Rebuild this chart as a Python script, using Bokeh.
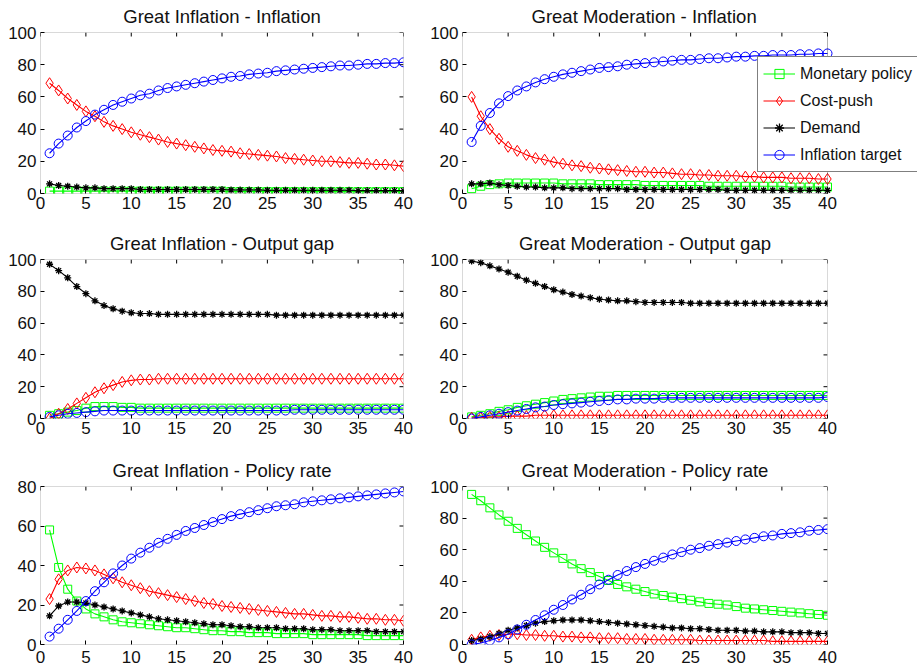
from math import pi
from bokeh.plotting import figure
from bokeh.models import Title, Legend, LegendItem, Range1d, FixedTicker, BoxAnnotation
from bokeh.layouts import column, row
from bokeh.embed import file_html
from bokeh.resources import INLINE

horizon = list(range(1, 41))
x_ticks = [0, 5, 10, 15, 20, 25, 30, 35, 40]
y_ticks_100 = [0, 20, 40, 60, 80, 100]
y_ticks_80 = [0, 20, 40, 60, 80]
series_names = ["Monetary policy", "Cost-push", "Demand", "Inflation target"]

# Great Inflation - Inflation
gi_inf_mp = [1.5,1.5,1.5,1.5,1.5,1.5,1.5,1.5,1.5,1.5,1.5,1.5,1.5,1.5,1.5,1.5,1.5,1.5,1.5,1.5,
             1.2,1.2,1.2,1.2,1.2,1.2,1.2,1.2,1.2,1.2,1.2,1.2,1.2,1.2,1.2,1.2,1.2,1.2,1.2,1.2]
gi_inf_cp = [68.5,64,59,55,51,48,44.5,42,40,38,36.5,35,33.5,32,31,30,29,28,27,26.5,
             26,25,24.5,24,23.5,23,22,21.5,21,20.5,20,20,19.5,19,19,18.5,18,18,17.5,17]
gi_inf_dm = [6,5,4.5,4,3.5,3.5,3,3,3,3,2.5,2.5,2.5,2.5,2.5,2.5,2.5,2.5,2.5,2.5,
             2.2,2.2,2.2,2.2,2,2,2,2,2,2,2,2,2,2,1.8,1.8,1.8,1.8,1.8,1.8]
gi_inf_it = [25,31,36,41,45,49,52,55,57,59,61,62,64,65.5,66.5,67.5,68.5,69.5,70.5,71.5,
             72.5,73,74,74.5,75,76,76.5,77,77.5,78,78.5,79,79.5,79.5,80,80.5,80.5,81,81,81.5]

# Great Moderation - Inflation
gm_inf_mp = [3,4.5,5.5,6,6.5,6.5,6.5,6.5,6.5,6.5,6,6,6,6,5.5,5.5,5.5,5.5,5.5,5,
             5,5,5,5,5,5,4.5,4.5,4.5,4.5,4.5,4.5,4.5,4.5,4.5,4,4,4,4,4]
gm_inf_cp = [60,48,40,34,29,26.5,24,22,21,19.5,18.5,17.5,17,16,15.5,15,14.5,14,13.5,13.5,
             13,13,12.5,12,12,11.5,11.5,11,11,11,10.5,10.5,10,10,10,9.5,9.5,9.5,9,9]
gm_inf_dm = [6,6,6.5,5.5,5,4.5,4,4,3.5,3.5,3.5,3,3,3,3,3,3,2.5,2.5,2.5,
             2.5,2.5,2.5,2.5,2.5,2.5,2.5,2.5,2,2,2,2,2,2,2,2,2,2,2,2]
gm_inf_it = [32,42,50,56,60.5,64,66.5,69,71,72.5,74,75,76,77,78,78.5,79,80,80.5,81,
             81.5,82,82.5,83,83,83.5,84,84,84.5,85,85,85.5,85.5,86,86,86,86.5,86.5,87,87]

# Great Inflation - Output gap
gi_gap_mp = [2,3,4,5,6.5,7.5,7.5,7.5,7,7,6.5,6.5,6.5,6.5,6.5,6.5,6.5,6.5,6.5,6.5,
             6.5,6.5,6.5,6.5,6.5,6.5,6.5,6.5,6.5,6.5,6.5,6.5,6.5,6.5,6.5,6.5,6.5,6.5,6.5,6.5]
gi_gap_cp = [0,3,6,9.5,13,16.5,19,21,23,24,24.5,24.5,25,25,25,25,25,25,25,25,
             25,25,25,25,25,25,25,25,25,25,25,25,25,25,25,25,25,25,25,25]
gi_gap_dm = [97,93,88.5,83,78.5,74,71,69,67.5,66.5,66,66,65.5,65.5,65.5,65.5,65.5,65.5,65.5,65.5,
             65.5,65.5,65.5,65.5,65.5,65,65,65,65,65,65,65,65,65,65,65,65,65,65,65]
gi_gap_it = [1,2,3,3.5,4,4.5,5,5,5,5,5,5,5,5,5,5,5,5,5,5,
             5,5,5,5,5,5,5,5.5,5.5,5.5,5.5,5.5,5.5,5.5,5.5,5.5,5.5,5.5,5.5,5.5]

# Great Moderation - Output gap
gm_gap_mp = [1,2,3,4.5,5.5,7,8,9,10,11,12,12.5,13,13.5,14,14,14.5,14.5,14.5,14.5,
             14.5,14.5,14.5,14.5,14.5,14.5,14.5,14.5,14.5,14.5,14.5,14.5,14.5,14.5,14.5,14.5,14.5,14.5,14.5,14.5]
gm_gap_cp = [0.5,0.5,1,1,1.5,1.5,1.5,2,2,2,2,2,2,2,2,2,2,2,2,2,
             2,2,2,2,2,2,2,2,2,2,2,2,2,2,2,2,2,2,2,2]
gm_gap_dm = [99,98,96,94,92,89.5,87,85,83,81,79.5,78,77,76,75,74.5,74,74,73.5,73,
             73,73,73,73,72.5,72.5,72.5,72.5,72.5,72.5,72.5,72.5,72.5,72.5,72.5,72.5,72.5,72.5,72.5,72.5]
gm_gap_it = [0,1,2,3,4,5,6,7,7.5,8.5,9,9.5,10,10.5,11,11.5,12,12,12.5,12.5,
             12.5,13,13,13,13,13,13,13,13,13,13,13,13,13,13,13,13,13,13,13.5]

# Great Inflation - Policy rate
gi_rate_mp = [58,39,28,22,18,15.5,14,12.5,11.5,11,10.5,10,9.5,9,8.5,8.5,8,7.5,7,7,
              6.5,6.5,6,6,6,5.5,5.5,5.5,5.5,5,5,5,5,5,5,4.5,4.5,4.5,4.5,4.5]
gi_rate_cp = [23,33,37.5,39,38.5,37.5,35.5,33.5,31.5,30,28.5,27,26,25,24,23,22,21,20.5,19.5,
              19,18.5,18,17.5,17,16.5,16,15.5,15.5,15,14.5,14.5,14,14,13.5,13,13,12.5,12.5,12]
gi_rate_dm = [14.5,19.5,21.5,21.5,21,20,19,18,17,16,15,14,13,12.5,12,11.5,11,10.5,10,10,
              9.5,9,9,8.5,8.5,8.5,8,8,8,7.5,7.5,7.5,7,7,7,7,6.5,6.5,6.5,6.5]
gi_rate_it = [4,8,12.5,17,22,27,31.5,36,40,43.5,46.5,49,51.5,53.5,55.5,57.5,59,60.5,62,63.5,
              65,66,67,68,69,70,70.5,71,72,72.5,73,73.5,74,74.5,75,75.5,76,76.5,77,77.5]

# Great Moderation - Policy rate
gm_rate_mp = [95,91,86.5,82,78,73.5,69.5,65.5,61.5,58,54.5,51,48,45.5,43,40.5,38,36.5,35,33.5,
              32,31,30,29,28,27,26,25.5,25,24,23,22.5,22,21.5,21,20.5,20,19.5,19,18.5]
gm_rate_cp = [3,4.5,5.5,6,6.5,6.5,6,6,5.5,5.5,5,5,4.5,4.5,4,4,4,3.5,3.5,3.5,
              3,3,3,3,3,2.5,2.5,2.5,2.5,2.5,2.5,2.5,2.5,2,2,2,2,2,2,2]
gm_rate_dm = [2.5,3.5,5,7,9,10.5,12,13.5,14.5,15,15.5,15.5,15.5,15,14.5,14,13.5,13,12.5,12,
              11.5,11,10.5,10.5,10,10,9.5,9,9,9,8.5,8.5,8,8,8,7.5,7.5,7.5,7,7]
gm_rate_it = [0,1,2.5,4.5,6.5,9.5,12.5,15.5,18.5,22,25,28.5,31.5,35,38,41,44,46.5,49,51,
              53,55,57,58.5,60,61,62.5,63.5,64.5,65.5,66.5,67.5,68.5,69,70,70.5,71,72,72.5,73]

COLORS = ["#00ff00", "#ff0000", "#000000", "#0000ff"]
MARKERS = ["square", "diamond", "asterisk", "circle"]
SIZES = [8, 11, 7, 9]
FONT = "Liberation Sans"
XMAX = 40


def make_panel(title, series, ymax, yticks, width, height, bl, br, bt, bb,
               frame_w, label_standoff=3, legend=False, title_left=None):
    # x range right end: 40 sits at the right edge of a frame_w-pixel box
    plot_w = width - bl - br
    x_end = XMAX * plot_w / frame_w
    p = figure(width=width, height=height, title=None,
               x_range=Range1d(0, x_end), y_range=Range1d(0, ymax),
               output_backend="svg", toolbar_location=None,
               min_border_left=bl, min_border_right=br,
               min_border_top=bt, min_border_bottom=bb)
    p.xgrid.visible = False
    p.ygrid.visible = False
    p.outline_line_color = None
    p.background_fill_color = "white"
    p.border_fill_color = "white"

    for ax, ticks in ((p.xaxis[0], x_ticks), (p.yaxis[0], yticks)):
        ax.ticker = FixedTicker(ticks=ticks)
        ax.major_tick_in = 4
        ax.major_tick_out = 0
        ax.minor_tick_line_color = None
        ax.axis_line_color = None
        ax.major_tick_line_color = "black"
        ax.major_label_text_font = FONT
        ax.major_label_text_font_size = "17px"
        ax.major_label_text_color = "#111111"
        ax.major_label_standoff = label_standoff
    p.yaxis[0].major_label_standoff = 4

    # inward ticks on the top and right edges
    p.ray(x=x_ticks, y=[ymax] * len(x_ticks), length=4, length_units="screen",
          angle=-pi / 2, line_color="black", line_width=1)
    p.ray(x=[XMAX] * len(yticks), y=yticks, length=4, length_units="screen",
          angle=pi, line_color="black", line_width=1)

    if title_left is None:
        t = Title(text=title, align="center", vertical_align="top")
    else:
        t = Title(text=title, align="left", vertical_align="top", offset=title_left)
    t.text_font = FONT
    t.text_font_size = "18.5px"
    t.text_font_style = "normal"
    t.text_color = "#111111"
    t.standoff = 8
    p.add_layout(t, "above")

    items = []
    for name, vals, c, m, s in zip(series_names, series, COLORS, MARKERS, SIZES):
        lr = p.line(horizon, vals, line_color=c, line_width=1.1)
        if m == "asterisk":
            sr = p.scatter(horizon, vals, marker=m, size=s, line_color=c, line_width=1.3)
        else:
            sr = p.scatter(horizon, vals, marker=m, size=s, line_color=c,
                           fill_color=None, line_width=1)
        items.append(LegendItem(label=name, renderers=[lr, sr]))

    # box around the axes area, from 0 to 40 on x and 0 to ymax on y
    p.add_layout(BoxAnnotation(left=0, right=XMAX, bottom=0, top=ymax,
                               fill_color=None, fill_alpha=0,
                               line_color="black", line_width=1))

    if legend:
        lg = Legend(items=items, location=(295, 21))
        lg.label_text_font = FONT
        lg.label_text_font_size = "16px"
        lg.label_text_color = "#111111"
        lg.glyph_width = 32
        lg.glyph_height = 23
        lg.label_height = 23
        lg.label_standoff = 5
        lg.spacing = 4
        lg.padding = 5
        lg.margin = 0
        lg.border_line_color = "black"
        lg.border_line_width = 1
        lg.background_fill_color = "white"
        lg.background_fill_alpha = 1
        p.add_layout(lg, "center")
    return p


LW, RW = 420, 498
p1 = make_panel("Great Inflation - Inflation", [gi_inf_mp, gi_inf_cp, gi_inf_dm, gi_inf_it],
                100, y_ticks_100, LW, 226, 40, 17, 32, 33, 363)
p2 = make_panel("Great Moderation - Inflation", [gm_inf_mp, gm_inf_cp, gm_inf_dm, gm_inf_it],
                100, y_ticks_100, RW, 226, 42, 1, 32, 33, 365, legend=True, title_left=69)
p3 = make_panel("Great Inflation - Output gap", [gi_gap_mp, gi_gap_cp, gi_gap_dm, gi_gap_it],
                100, y_ticks_100, LW, 224, 40, 17, 33, 32, 363)
p4 = make_panel("Great Moderation - Output gap", [gm_gap_mp, gm_gap_cp, gm_gap_dm, gm_gap_it],
                100, y_ticks_100, RW, 224, 42, 91, 33, 32, 365)
p5 = make_panel("Great Inflation - Policy rate", [gi_rate_mp, gi_rate_cp, gi_rate_dm, gi_rate_it],
                80, y_ticks_80, LW, 219, 40, 17, 36, 25, 363, label_standoff=6)
p6 = make_panel("Great Moderation - Policy rate", [gm_rate_mp, gm_rate_cp, gm_rate_dm, gm_rate_it],
                100, y_ticks_100, RW, 219, 42, 91, 36, 25, 365, label_standoff=6)

layout = column(row(p1, p2), row(p3, p4), row(p5, p6))
open("out.html", "w").write(file_html(layout, INLINE))
